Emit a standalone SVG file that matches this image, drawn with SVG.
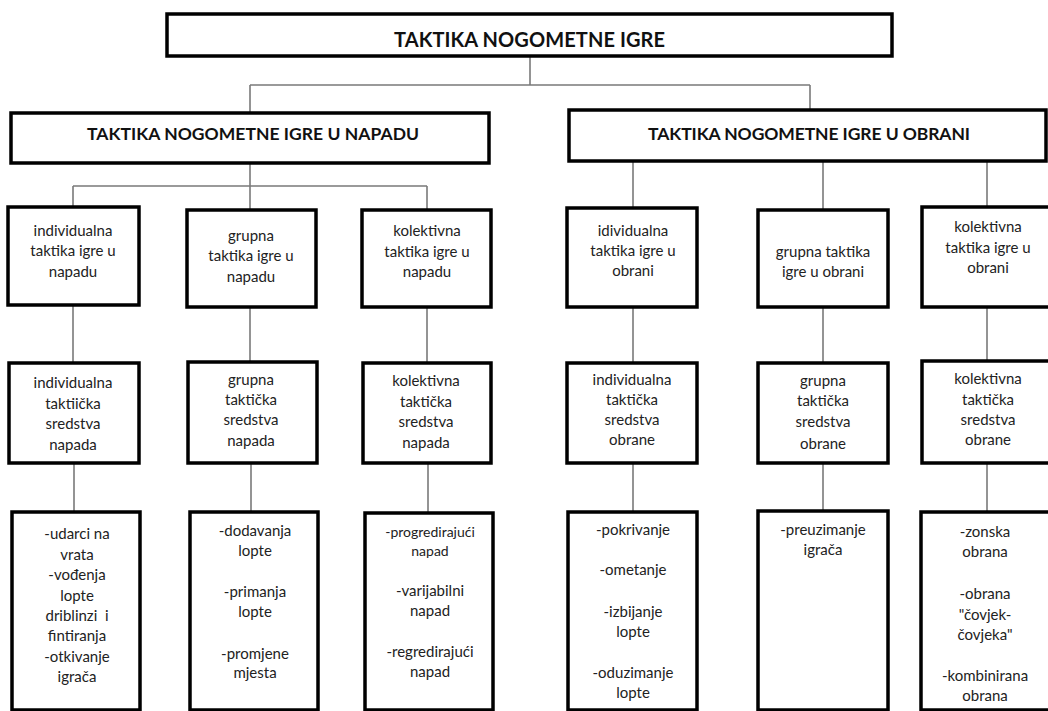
<svg xmlns="http://www.w3.org/2000/svg" width="1048" height="711" viewBox="0 0 1048 711">
<style>
.box{fill:#fff;stroke:#000;stroke-width:3.5}
.t{font-family:Lato,"Open Sans","Liberation Sans",sans-serif;font-size:15px;fill:#222;text-anchor:middle}
.s{font-size:14px}
.h{font-family:Lato,"Open Sans","Liberation Sans",sans-serif;font-weight:bold;fill:#111}
.c{fill:none;stroke:#7a7a7a;stroke-width:1.6}
</style>
<rect width="1048" height="711" fill="#fff"/>
<g id="connectors" class="c">
<path d="M530 56V85M250 85H810M250 85V113M810 85V110"/>
<path d="M250 163V186M73 186H427M73 186V207M250 186V210M427 186V210"/>
<path d="M633 161V208M823 161V210M987 161V207"/>
<path d="M73 305V363M250 307V362M427 307V363M633 307V363M823 307V363M987 307V361"/>
<path d="M74 463V512M251 463V512M428 463V513M633 463V512M823 463V511M987 463V512"/>
</g>
<g id="root">
<rect class="box" x="167" y="14" width="725" height="42"/>
<text class="h" x="529.5" y="47" font-size="20" text-anchor="middle" textLength="271">TAKTIKA NOGOMETNE IGRE</text>
</g>
<g id="napad">
<rect class="box" x="11" y="113" width="478" height="50"/>
<text class="h" x="87" y="140" font-size="17.5" textLength="332">TAKTIKA NOGOMETNE IGRE U NAPADU</text>
</g>
<g id="obrana">
<rect class="box" x="569" y="110" width="477" height="51"/>
<text class="h" x="648" y="140" font-size="17.5" textLength="322">TAKTIKA NOGOMETNE IGRE U OBRANI</text>
</g>
<g id="n-ind">
<rect class="box" x="8" y="207" width="131" height="98"/>
<text class="t"><tspan x="73" y="236">individualna</tspan><tspan x="73" y="256">taktika igre u</tspan><tspan x="73" y="277">napadu</tspan></text>
</g>
<g id="n-grp">
<rect class="box" x="187" y="210" width="129" height="97"/>
<text class="t"><tspan x="251" y="241">grupna</tspan><tspan x="251" y="261">taktika igre u</tspan><tspan x="251" y="282">napadu</tspan></text>
</g>
<g id="n-kol">
<rect class="box" x="362" y="210" width="129" height="97"/>
<text class="t"><tspan x="427" y="236">kolektivna</tspan><tspan x="427" y="257">taktika igre u</tspan><tspan x="427" y="277">napadu</tspan></text>
</g>
<g id="o-ind">
<rect class="box" x="567" y="208" width="130" height="99"/>
<text class="t"><tspan x="633" y="236">idividualna</tspan><tspan x="633" y="256">taktika igre u</tspan><tspan x="633" y="276">obrani</tspan></text>
</g>
<g id="o-grp">
<rect class="box" x="758" y="210" width="130" height="97"/>
<text class="t"><tspan x="823" y="257">grupna taktika</tspan><tspan x="823" y="277">igre u obrani</tspan></text>
</g>
<g id="o-kol">
<rect class="box" x="922" y="207" width="140" height="100"/>
<text class="t"><tspan x="988" y="232">kolektivna</tspan><tspan x="988" y="253">taktika igre u</tspan><tspan x="988" y="273">obrani</tspan></text>
</g>
<g id="n-ind-s">
<rect class="box" x="9" y="363" width="130" height="100"/>
<text class="t"><tspan x="73" y="388">individualna</tspan><tspan x="73" y="409">taktiička</tspan><tspan x="73" y="429">sredstva</tspan><tspan x="73" y="450">napada</tspan></text>
</g>
<g id="n-grp-s">
<rect class="box" x="188" y="362" width="129" height="101"/>
<text class="t"><tspan x="251" y="385">grupna</tspan><tspan x="251" y="405">taktička</tspan><tspan x="251" y="425">sredstva</tspan><tspan x="251" y="446">napada</tspan></text>
</g>
<g id="n-kol-s">
<rect class="box" x="363" y="363" width="128" height="100"/>
<text class="t"><tspan x="426" y="386">kolektivna</tspan><tspan x="426" y="407">taktička</tspan><tspan x="426" y="427">sredstva</tspan><tspan x="426" y="448">napada</tspan></text>
</g>
<g id="o-ind-s">
<rect class="box" x="567" y="363" width="130" height="100"/>
<text class="t"><tspan x="632" y="385">individualna</tspan><tspan x="632" y="405">taktička</tspan><tspan x="632" y="425">sredstva</tspan><tspan x="632" y="445">obrane</tspan></text>
</g>
<g id="o-grp-s">
<rect class="box" x="758" y="363" width="130" height="100"/>
<text class="t"><tspan x="823" y="386">grupna</tspan><tspan x="823" y="406">taktička</tspan><tspan x="823" y="427">sredstva</tspan><tspan x="823" y="449">obrane</tspan></text>
</g>
<g id="o-kol-s">
<rect class="box" x="922" y="361" width="140" height="102"/>
<text class="t"><tspan x="988" y="384">kolektivna</tspan><tspan x="988" y="405">taktička</tspan><tspan x="988" y="425">sredstva</tspan><tspan x="988" y="445">obrane</tspan></text>
</g>
<g id="n-ind-l">
<rect class="box" x="12" y="512" width="128" height="198"/>
<text class="t"><tspan x="77" y="539">-udarci na</tspan><tspan x="77" y="560">vrata</tspan><tspan x="77" y="580">-vođenja</tspan><tspan x="77" y="601">lopte</tspan><tspan x="77" y="621">driblinzi&#160; i</tspan><tspan x="77" y="641">fintiranja</tspan><tspan x="77" y="662">-otkivanje</tspan><tspan x="77" y="682">igrača</tspan></text>
</g>
<g id="n-grp-l">
<rect class="box" x="190" y="512" width="128" height="198"/>
<text class="t"><tspan x="255" y="536">-dodavanja</tspan><tspan x="255" y="556">lopte</tspan><tspan x="255" y="597">-primanja</tspan><tspan x="255" y="617">lopte</tspan><tspan x="255" y="659">-promjene</tspan><tspan x="255" y="678">mjesta</tspan></text>
</g>
<g id="n-kol-l">
<rect class="box" x="365" y="513" width="128" height="197"/>
<text class="t"><tspan class="s" x="430" y="537">-progredirajući</tspan><tspan class="s" x="430" y="556">napad</tspan><tspan x="430" y="596">-varijabilni</tspan><tspan x="430" y="616">napad</tspan><tspan x="430" y="657">-regredirajući</tspan><tspan x="430" y="677">napad</tspan></text>
</g>
<g id="o-ind-l">
<rect class="box" x="568" y="512" width="129" height="198"/>
<text class="t"><tspan x="633" y="535">-pokrivanje</tspan><tspan x="633" y="575">-ometanje</tspan><tspan x="633" y="617">-izbijanje</tspan><tspan x="633" y="637">lopte</tspan><tspan x="633" y="678">-oduzimanje</tspan><tspan x="633" y="698">lopte</tspan></text>
</g>
<g id="o-grp-l">
<rect class="box" x="758" y="511" width="130" height="199"/>
<text class="t"><tspan x="823" y="535">-preuzimanje</tspan><tspan x="823" y="555">igrača</tspan></text>
</g>
<g id="o-kol-l">
<rect class="box" x="921" y="512" width="141" height="198"/>
<text class="t"><tspan x="985" y="537">-zonska</tspan><tspan x="985" y="557">obrana</tspan><tspan x="985" y="599">-obrana</tspan><tspan x="985" y="620">"čovjek-</tspan><tspan x="985" y="640">čovjeka"</tspan><tspan x="985" y="681">-kombinirana</tspan><tspan x="985" y="701">obrana</tspan></text>
</g>
</svg>
